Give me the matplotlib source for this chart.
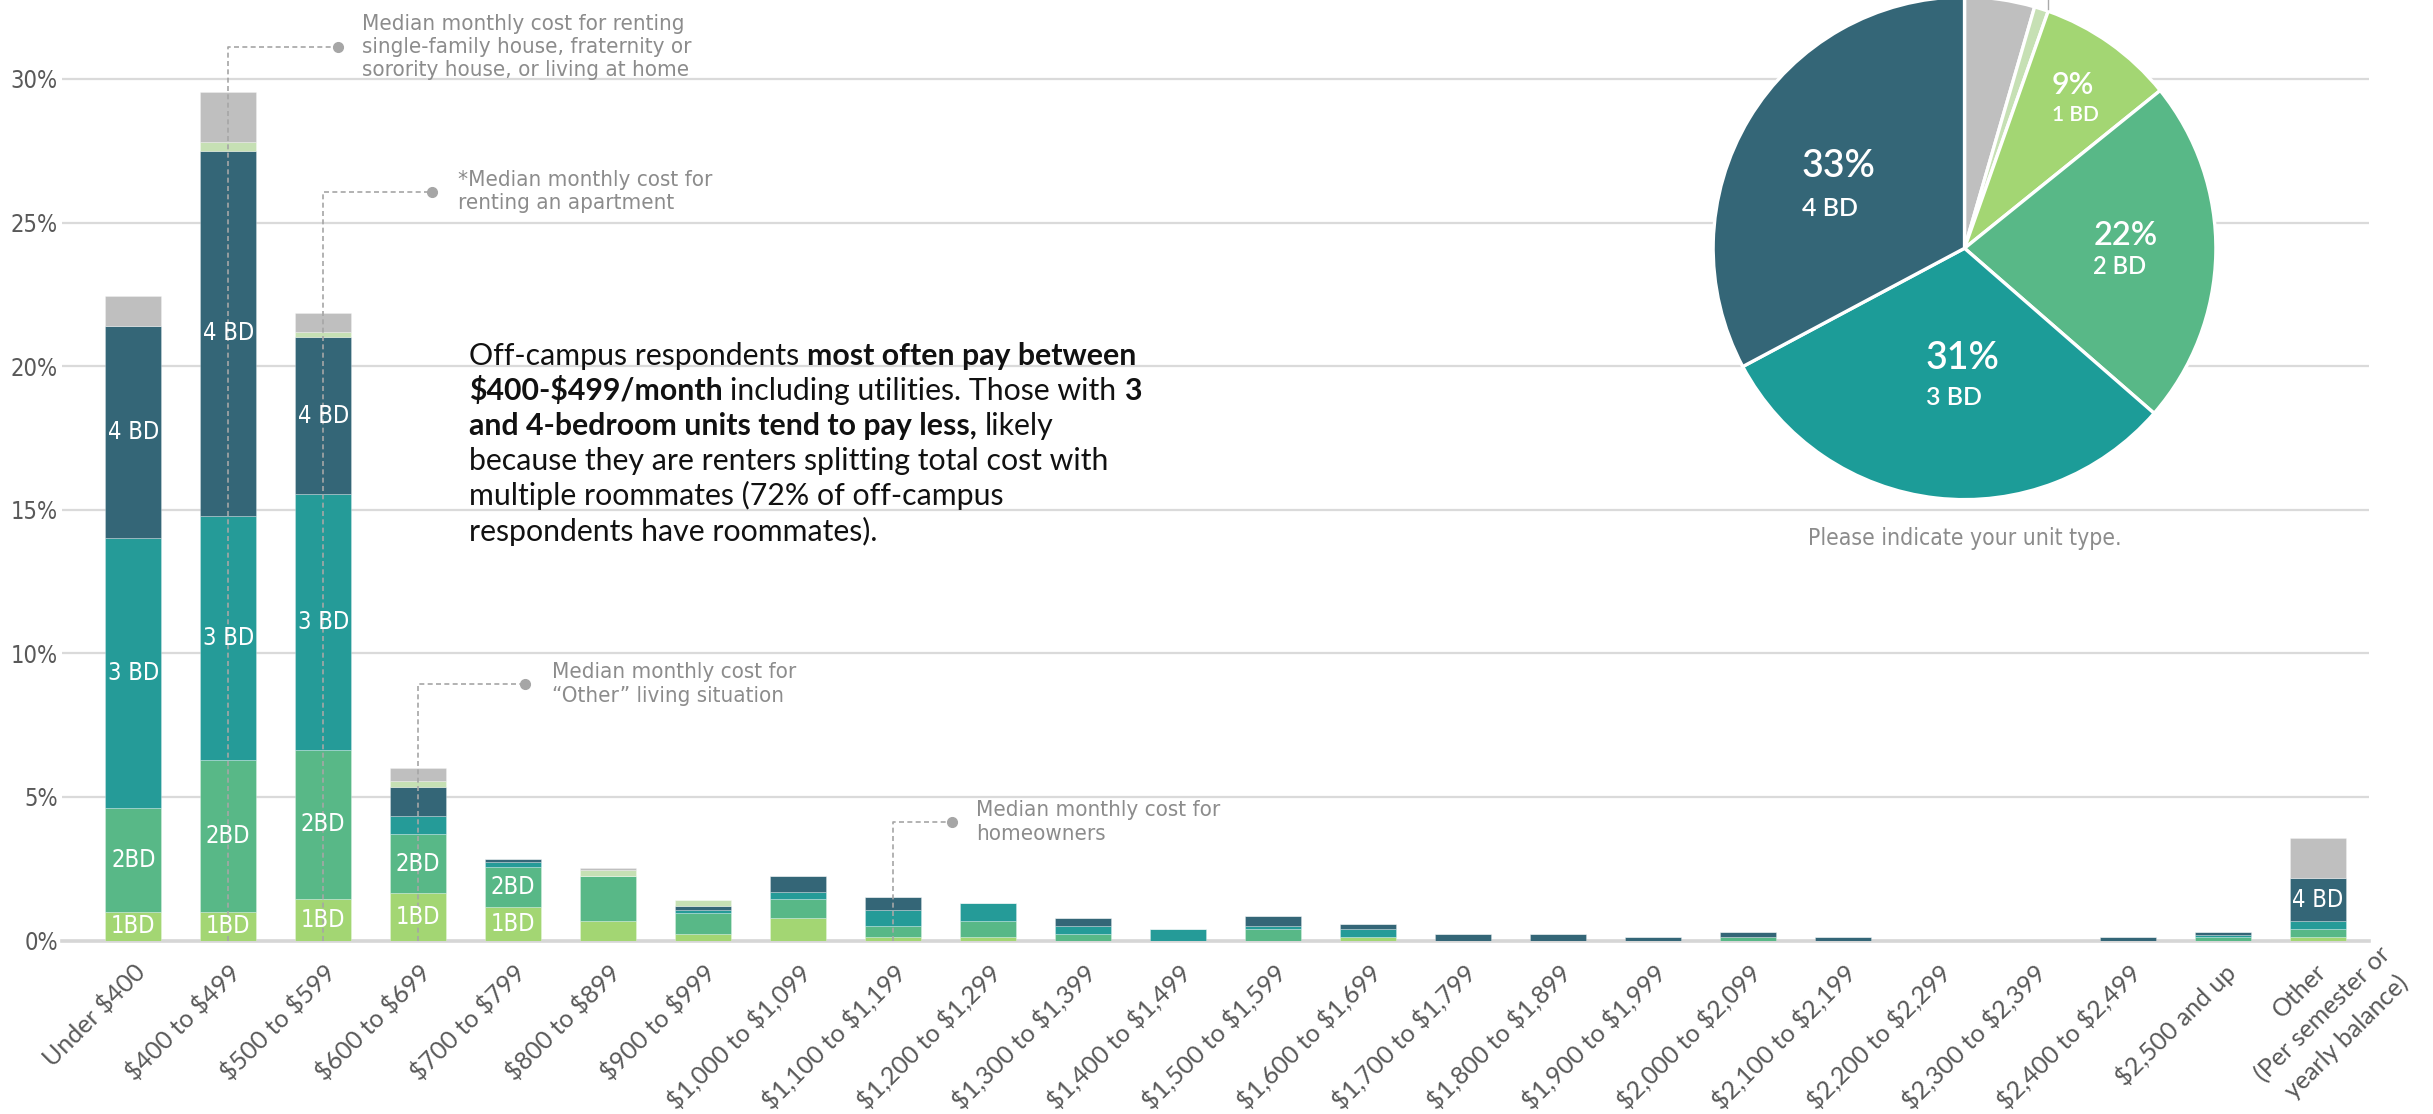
import matplotlib
matplotlib.use('Agg')
import matplotlib.pyplot as plt
from matplotlib import font_manager
import numpy as np

# Monthly cost brackets (share of off-campus respondents, %) by unit type
categories = ["Under $400", "$400 to $499", "$500 to $599", "$600 to $699", "$700 to $799",
              "$800 to $899", "$900 to $999", "$1,000 to $1,099", "$1,100 to $1,199",
              "$1,200 to $1,299", "$1,300 to $1,399", "$1,400 to $1,499", "$1,500 to $1,599",
              "$1,600 to $1,699", "$1,700 to $1,799", "$1,800 to $1,899", "$1,900 to $1,999",
              "$2,000 to $2,099", "$2,100 to $2,199", "$2,200 to $2,299", "$2,300 to $2,399",
              "$2,400 to $2,499", "$2,500 and up", "Other\n(Per semester or\nyearly balance)"]

bd1 = [1.0, 1.0, 1.45, 1.65, 1.17, 0.68, 0.23, 0.8, 0.13, 0.13, 0, 0, 0, 0.12,
       0, 0, 0, 0, 0, 0, 0, 0, 0, 0.13]
bd2 = [3.6, 5.3, 5.2, 2.05, 1.4, 1.57, 0.72, 0.63, 0.36, 0.55, 0.23, 0, 0.41, 0,
       0, 0, 0, 0.13, 0, 0, 0, 0, 0.12, 0.28]
bd3 = [9.4, 8.5, 8.9, 0.65, 0.18, 0, 0.1, 0.27, 0.57, 0.64, 0.27, 0.39, 0.09, 0.27,
       0, 0, 0, 0, 0, 0, 0, 0, 0.07, 0.27]
bd4 = [7.4, 12.7, 5.45, 1.0, 0.08, 0, 0.16, 0.55, 0.44, 0, 0.28, 0, 0.36, 0.19,
       0.22, 0.23, 0.12, 0.18, 0.13, 0, 0, 0.13, 0.12, 1.49]
studio = [0, 0.3, 0.2, 0.2, 0, 0.19, 0.2, 0, 0, 0, 0, 0, 0, 0,
          0, 0, 0, 0, 0, 0, 0, 0, 0, 0]
other_unit = [1.05, 1.75, 0.65, 0.45, 0, 0.09, 0, 0, 0, 0, 0, 0, 0, 0,
              0, 0, 0, 0, 0, 0, 0, 0, 0, 1.4]

series = [bd1, bd2, bd3, bd4, studio, other_unit]
colors = ['#a3d673', '#58b887', '#259b98', '#346677', '#c6e0b4', '#bfbfbf']

# in-bar labels: (category index, series index, text)
bar_labels = [(0, 0, '1BD'), (0, 1, '2BD'), (0, 2, '3 BD'), (0, 3, '4 BD'),
              (1, 0, '1BD'), (1, 1, '2BD'), (1, 2, '3 BD'), (1, 3, '4 BD'),
              (2, 0, '1BD'), (2, 1, '2BD'), (2, 2, '3 BD'), (2, 3, '4 BD'),
              (3, 0, '1BD'), (3, 1, '2BD'),
              (4, 0, '1BD'), (4, 1, '2BD'),
              (23, 3, '4 BD')]

# median cost call-outs: (category index, line height, dot x, text x, text)
callouts = [
    (1, 31.12, 2.155, 2.41, "Median monthly cost for renting\nsingle-family house, fraternity or\nsorority house, or living at home"),
    (2, 26.07, 3.145, 3.42, "*Median monthly cost for\nrenting an apartment"),
    (3, 8.93, 4.12, 4.41, "Median monthly cost for\n\u201cOther\u201d living situation"),
    (8, 4.13, 8.62, 8.87, "Median monthly cost for\nhomeowners"),
]

# unit type pie
unit_types = ['Other', 'Studio', '1 BD', '2 BD', '3 BD', '4 BD']
unit_share = [4.5, 0.9, 8.8, 22.2, 30.8, 32.8]
pie_colors = ['#bfbfbf', '#c6e0b4', '#a3d673', '#58b887', '#1c9c98', '#346677']
# label anchors (x, y of percentage, y of unit name) and font sizes
pie_label_pos = {2: (0.346, 0.648, 0.531, 22, 15),
                 3: (0.512, 0.049, -0.074, 23.5, 17),
                 4: (-0.154, -0.438, -0.593, 27, 18),
                 5: (-0.648, 0.327, 0.160, 27, 18)}

narrow = font_manager.FontProperties(family='DejaVu Sans', stretch='condensed', size=17)
NARROW = dict(family='DejaVu Sans', fontstretch='condensed')
BODY = ['Lato', 'DejaVu Sans']
GRAY_TXT = '#8c8c8c'
TICK_SIZE = 18

fig = plt.figure(figsize=(24.33, 11.14), dpi=100, facecolor='w')
ax = fig.add_axes([0.0255, 0.1557, 0.9482, 0.8443])
renderer = fig.canvas.get_renderer()

x = np.arange(len(categories))
bottom = np.zeros(len(categories))
bottoms = []
for vals, c in zip(series, colors):
    vals = np.array(vals)
    bottoms.append(bottom.copy())
    ax.bar(x, vals, width=0.59, bottom=bottom, color=c, edgecolor=(1, 1, 1, 0.3),
           linewidth=0.6, zorder=2)
    bottom += vals

for ci, si, txt in bar_labels:
    yc = bottoms[si][ci] + series[si][ci] / 2.0
    ax.text(x[ci], yc, txt, color='white', ha='center', va='center',
            fontsize=17, zorder=4, **NARROW)

for ci, h, dot_x, text_x, txt in callouts:
    ax.plot([x[ci], x[ci], dot_x], [0, h, h], color='#a6a6a6', lw=1.2,
            dashes=(3, 2), zorder=3, clip_on=False)
    ax.plot([dot_x], [h], 'o', color='#a6a6a6', ms=7, zorder=3, clip_on=False)
    ax.text(text_x, h, txt, color=GRAY_TXT, ha='left', va='center',
            fontsize=16, linespacing=1.2, **NARROW)

ax.set_xlim(-0.75, 23.54)
ax.set_ylim(0, 32.75)
ax.set_yticks(range(0, 31, 5))
ax.set_yticklabels([f'{v}%' for v in range(0, 31, 5)], color='#595959',
                   fontproperties=narrow)
ax.set_xticks(x)
# the multi-line "Other" label is placed by hand below
ax.set_xticklabels([c.replace('$', r'\$') for c in categories[:-1]] + [''],
                   rotation=45, ha='right', rotation_mode='anchor',
                   fontsize=TICK_SIZE, family=BODY, color='#595959')
ax.tick_params(axis='both', length=0)
ax.tick_params(axis='y', pad=3)
ax.tick_params(axis='x', pad=14)
for s in ax.spines.values():
    s.set_visible(False)
ax.yaxis.grid(True, color='#dadada', lw=1.6)
ax.set_axisbelow(True)
ax.axhline(0, color='#d6d6d6', lw=2.6, zorder=1.5, clip_on=False)

# "Other" label: first line ends at the tick, following lines centred under it
other_lines = categories[-1].split('\n')
probe = fig.text(0, 0, other_lines[0], fontsize=TICK_SIZE, family=BODY)
w0 = probe.get_window_extent(renderer).width
probe.remove()
tx, ty = ax.transData.transform((x[-1], 0))
ax_x, ax_y = tx + 5, ty - 27
d = np.sqrt(0.5)
cx, cy = ax_x - w0 / 2 * d, ax_y - w0 / 2 * d
line_gap = 33
for k, line in enumerate(other_lines):
    px, py = cx + k * line_gap * d, cy - k * line_gap * d
    fig.text(px / fig.bbox.width, py / fig.bbox.height, line, rotation=45,
             rotation_mode='anchor', ha='center', va='center',
             fontsize=TICK_SIZE, family=BODY, color='#595959')

# paragraph with bold highlights
para = [
    [("Off-campus respondents", False), ("most often pay between", True)],
    [("\\$400-\\$499/month", True), ("including utilities. Those with", False), ("3", True)],
    [("and 4-bedroom units tend to pay less,", True), ("likely", False)],
    [("because they are renters splitting total cost with", False)],
    [("multiple roommates (72% of off-campus", False)],
    [("respondents have roommates).", False)],
]
para_size = 21.8
probe1 = fig.text(0, 0, 'aa', fontsize=para_size, family=BODY)
probe2 = fig.text(0, 0, 'a a', fontsize=para_size, family=BODY)
space_w = (probe2.get_window_extent(renderer).width -
           probe1.get_window_extent(renderer).width) / fig.bbox.width
probe1.remove()
probe2.remove()
x0 = 469 / 2433
for i, line in enumerate(para):
    yb = 1 - (365 + 35.1 * i) / 1114
    xc = x0
    for txt, bold in line:
        t = fig.text(xc, yb, txt, fontsize=para_size, family=BODY, va='baseline',
                     fontweight='bold' if bold else 'normal', color='#111111')
        xc += t.get_window_extent(renderer).width / fig.bbox.width + space_w

# pie of unit types
pax = fig.add_axes([0.7041, 0.5515, 0.2067, 0.4513])
pax.pie(unit_share, colors=pie_colors, startangle=90, counterclock=False,
        wedgeprops=dict(edgecolor='white', linewidth=2.4))
pax.set_xlim(-1, 1)
pax.set_ylim(-1, 1)
pax.set_aspect('equal')
pax.axis('off')
for i, (lx, py, ly, ps, ls) in pie_label_pos.items():
    pax.text(lx, py, f'{round(unit_share[i])}%', color='white', fontsize=ps,
             family=BODY, fontweight='semibold', ha='left', va='center')
    pax.text(lx, ly, unit_types[i], color='white', fontsize=ls,
             family=BODY, fontweight='semibold', ha='left', va='center')
pax.plot([0.333, 0.333], [0.95, 1.2], color='#aaaaaa', lw=1, clip_on=False)
pax.text(0, -1.154, 'Please indicate your unit type.', color=GRAY_TXT,
         fontsize=16.5, ha='center', va='center', **NARROW)

fig.savefig('out.png', dpi=100, facecolor='w')
plt.close(fig)
